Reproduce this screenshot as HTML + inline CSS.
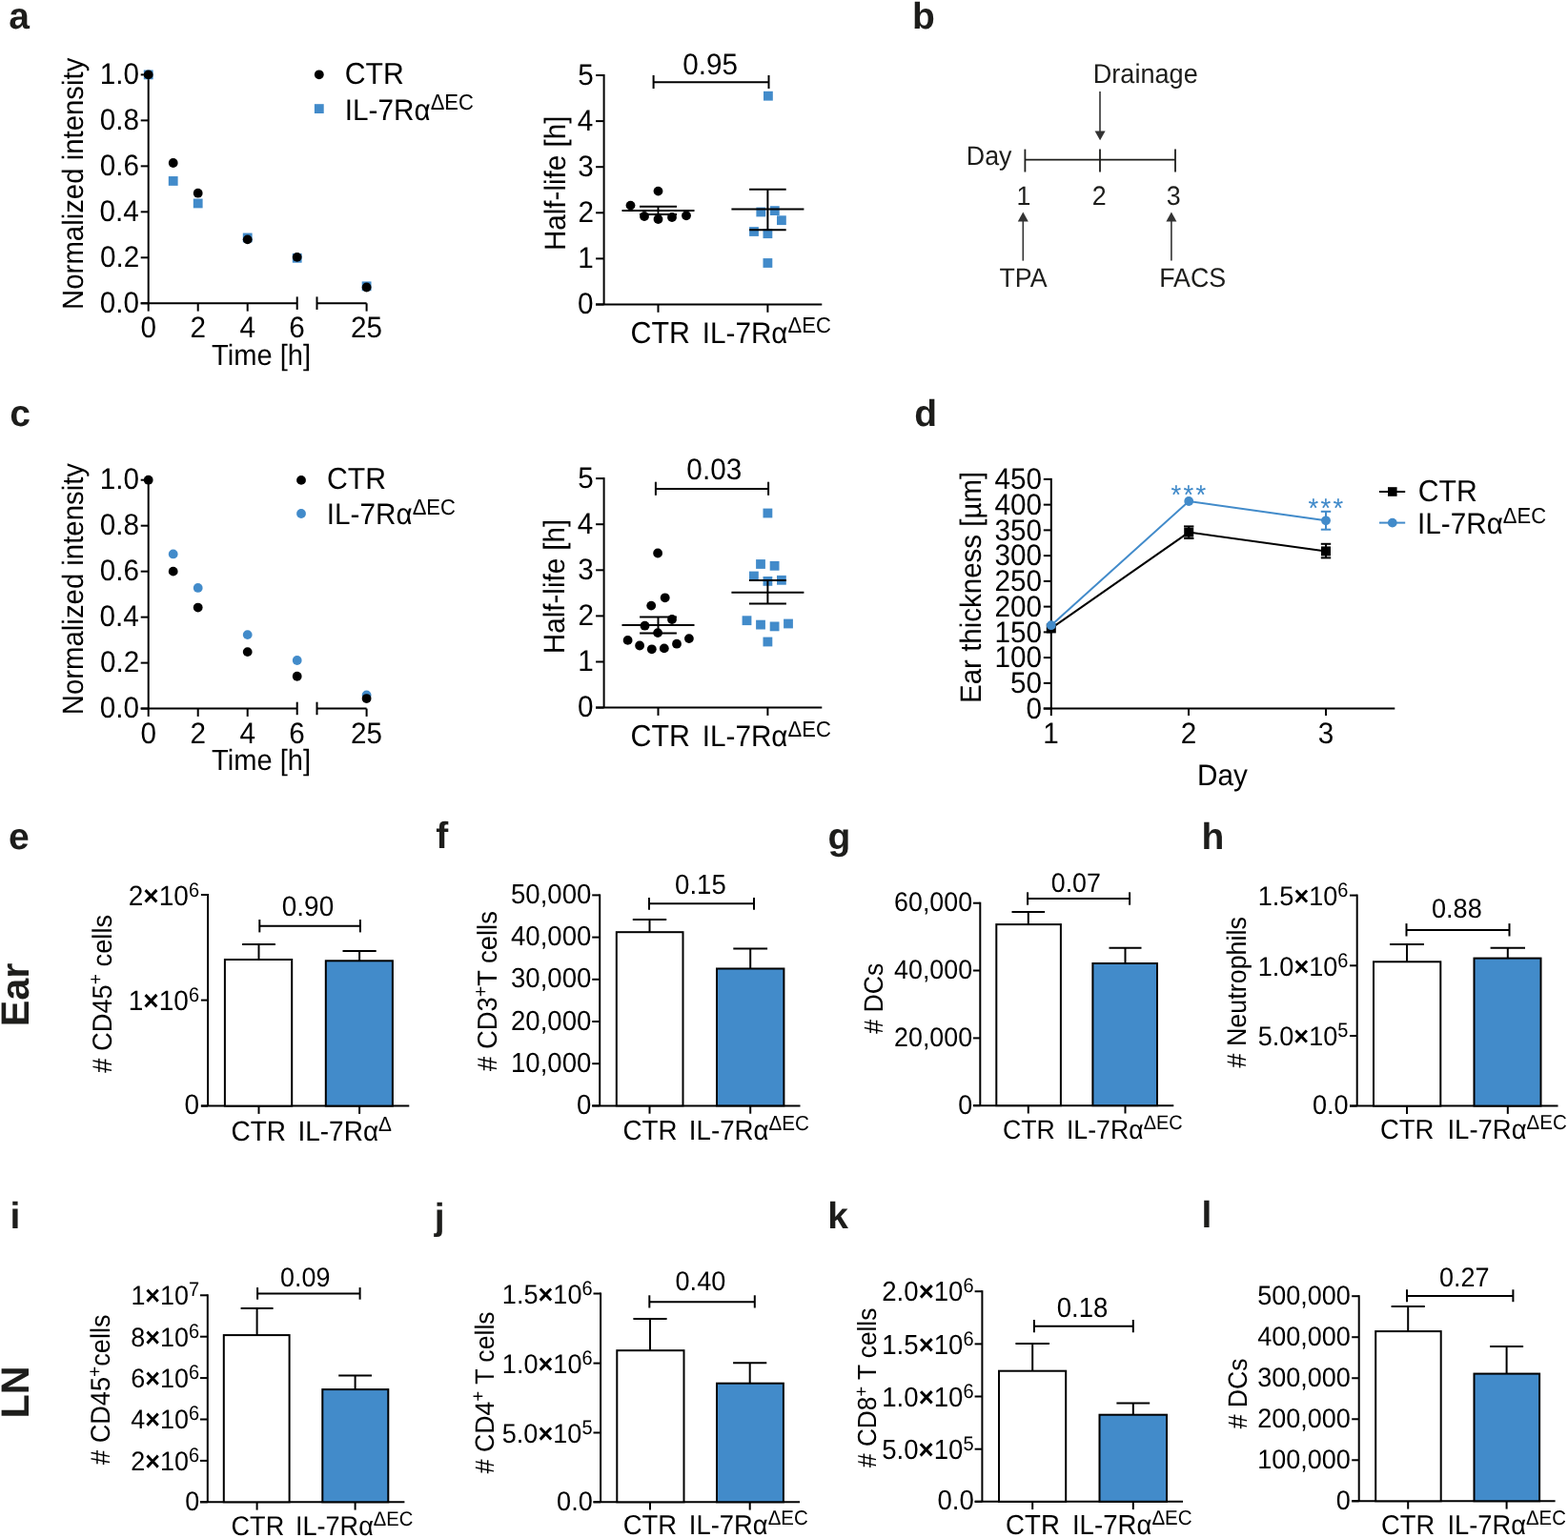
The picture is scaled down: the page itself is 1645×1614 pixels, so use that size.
<!DOCTYPE html>
<html><head><meta charset="utf-8"><title>Figure</title>
<style>
html,body{margin:0;padding:0;background:#fff;}
body{width:1645px;height:1614px;overflow:hidden;}
svg{display:block;}
svg text{font-family:'Liberation Sans', Arial, Helvetica, sans-serif;text-rendering:geometricPrecision;}
</style></head><body>
<svg width="1645" height="1614" viewBox="0 0 1645 1614">
<rect width="1645" height="1614" fill="#fff"/>
<text transform="translate(9.34,29.5)" font-size="39" fill="#1d1d1b" font-weight="bold">a</text>
<text transform="translate(956.99,30.2)" font-size="39" fill="#1d1d1b" font-weight="bold">b</text>
<text transform="translate(10.34,447)" font-size="39" fill="#1d1d1b" font-weight="bold">c</text>
<text transform="translate(959.36,447)" font-size="39" fill="#1d1d1b" font-weight="bold">d</text>
<text transform="translate(9.04,891.3)" font-size="39" fill="#1d1d1b" font-weight="bold">e</text>
<text transform="translate(457.35,890.3)" font-size="39" fill="#1d1d1b" font-weight="bold">f</text>
<text transform="translate(868.56,891)" font-size="39" fill="#1d1d1b" font-weight="bold">g</text>
<text transform="translate(1260.5,891.3)" font-size="39" fill="#1d1d1b" font-weight="bold">h</text>
<text transform="translate(10.39,1288.6)" font-size="39" fill="#1d1d1b" font-weight="bold">i</text>
<text transform="translate(455.75,1290)" font-size="39" fill="#1d1d1b" font-weight="bold">j</text>
<text transform="translate(868.27,1288.9)" font-size="39" fill="#1d1d1b" font-weight="bold">k</text>
<text transform="translate(1260.57,1288.4)" font-size="39" fill="#1d1d1b" font-weight="bold">l</text>
<text transform="translate(29.5,1043.8) rotate(-90)" x="-33.49" font-size="41.3" fill="#1d1d1b" font-weight="bold">Ear</text>
<text transform="translate(29.6,1462) rotate(-90)" x="-26.41" font-size="41.3" fill="#1d1d1b" font-weight="bold">LN</text>
<line x1="155.7" y1="77.4" x2="155.7" y2="326.6" stroke="#000" stroke-width="2"/>
<line x1="147.7" y1="318.3" x2="155.7" y2="318.3" stroke="#000" stroke-width="2"/>
<text transform="translate(104.67,327.9) scale(1,1.05)" font-size="29.7" fill="#000">0.0</text>
<line x1="147.7" y1="270.32" x2="155.7" y2="270.32" stroke="#000" stroke-width="2"/>
<text transform="translate(105.01,279.92) scale(1,1.05)" font-size="29.7" fill="#000">0.2</text>
<line x1="147.7" y1="222.34" x2="155.7" y2="222.34" stroke="#000" stroke-width="2"/>
<text transform="translate(104.38,231.94) scale(1,1.05)" font-size="29.7" fill="#000">0.4</text>
<line x1="147.7" y1="174.36" x2="155.7" y2="174.36" stroke="#000" stroke-width="2"/>
<text transform="translate(104.82,183.96) scale(1,1.05)" font-size="29.7" fill="#000">0.6</text>
<line x1="147.7" y1="126.38" x2="155.7" y2="126.38" stroke="#000" stroke-width="2"/>
<text transform="translate(104.8,135.98) scale(1,1.05)" font-size="29.7" fill="#000">0.8</text>
<line x1="147.7" y1="78.4" x2="155.7" y2="78.4" stroke="#000" stroke-width="2"/>
<text transform="translate(104.67,88) scale(1,1.05)" font-size="29.7" fill="#000">1.0</text>
<line x1="147.7" y1="318.3" x2="311.7" y2="318.3" stroke="#000" stroke-width="2"/>
<line x1="311.7" y1="311.4" x2="311.7" y2="324.9" stroke="#000" stroke-width="2"/>
<line x1="207.7" y1="318.3" x2="207.7" y2="326.6" stroke="#000" stroke-width="2"/>
<line x1="259.7" y1="318.3" x2="259.7" y2="326.6" stroke="#000" stroke-width="2"/>
<line x1="332.5" y1="318.3" x2="384.6" y2="318.3" stroke="#000" stroke-width="2"/>
<line x1="332.5" y1="311.4" x2="332.5" y2="324.9" stroke="#000" stroke-width="2"/>
<line x1="384.6" y1="318.3" x2="384.6" y2="326.6" stroke="#000" stroke-width="2"/>
<text transform="translate(147.44,354.3) scale(1,1.05)" font-size="29.7" fill="#000">0</text>
<text transform="translate(199.44,354.3) scale(1,1.05)" font-size="29.7" fill="#000">2</text>
<text transform="translate(251.54,354.3) scale(1,1.05)" font-size="29.7" fill="#000">4</text>
<text transform="translate(303.34,354.3) scale(1,1.05)" font-size="29.7" fill="#000">6</text>
<text transform="translate(367.96,354.3) scale(1,1.05)" font-size="29.7" fill="#000">25</text>
<text transform="translate(222.05,382.6) scale(1,1.05)" font-size="29.1" fill="#000">Time [h]</text>
<text transform="translate(87.2,191.6) rotate(-90) scale(1,1.05)" x="-133.3" font-size="29.35" fill="#000">Normalized intensity</text>
<rect x="150.8" y="73.5" width="9.8" height="9.8" fill="#428bca"/>
<rect x="176.8" y="185.05" width="9.8" height="9.8" fill="#428bca"/>
<rect x="202.8" y="208.56" width="9.8" height="9.8" fill="#428bca"/>
<rect x="254.8" y="244.55" width="9.8" height="9.8" fill="#428bca"/>
<rect x="306.8" y="265.9" width="9.8" height="9.8" fill="#428bca"/>
<rect x="379.7" y="295.41" width="9.8" height="9.8" fill="#428bca"/>
<circle cx="155.7" cy="78.4" r="4.9" fill="#000"/>
<circle cx="181.7" cy="171" r="4.9" fill="#000"/>
<circle cx="207.7" cy="202.67" r="4.9" fill="#000"/>
<circle cx="259.7" cy="251.37" r="4.9" fill="#000"/>
<circle cx="311.7" cy="269.84" r="4.9" fill="#000"/>
<circle cx="384.6" cy="301.51" r="4.9" fill="#000"/>
<circle cx="334.8" cy="78.3" r="4.9" fill="#000"/>
<rect x="329.9" y="109.2" width="9.8" height="9.8" fill="#428bca"/>
<text transform="translate(361.67,87.8) scale(1,1.05)" font-size="30.2" fill="#000">CTR</text>
<text transform="translate(361.86,125.5) scale(1,1.05)" font-size="29.7" fill="#000">IL-7Rα<tspan font-size="22" dy="-10.1">ΔEC</tspan></text>
<line x1="155.7" y1="502.7" x2="155.7" y2="751.9" stroke="#000" stroke-width="2"/>
<line x1="147.7" y1="743.6" x2="155.7" y2="743.6" stroke="#000" stroke-width="2"/>
<text transform="translate(104.67,753.2) scale(1,1.05)" font-size="29.7" fill="#000">0.0</text>
<line x1="147.7" y1="695.62" x2="155.7" y2="695.62" stroke="#000" stroke-width="2"/>
<text transform="translate(105.01,705.22) scale(1,1.05)" font-size="29.7" fill="#000">0.2</text>
<line x1="147.7" y1="647.64" x2="155.7" y2="647.64" stroke="#000" stroke-width="2"/>
<text transform="translate(104.38,657.24) scale(1,1.05)" font-size="29.7" fill="#000">0.4</text>
<line x1="147.7" y1="599.66" x2="155.7" y2="599.66" stroke="#000" stroke-width="2"/>
<text transform="translate(104.82,609.26) scale(1,1.05)" font-size="29.7" fill="#000">0.6</text>
<line x1="147.7" y1="551.68" x2="155.7" y2="551.68" stroke="#000" stroke-width="2"/>
<text transform="translate(104.8,561.28) scale(1,1.05)" font-size="29.7" fill="#000">0.8</text>
<line x1="147.7" y1="503.7" x2="155.7" y2="503.7" stroke="#000" stroke-width="2"/>
<text transform="translate(104.67,513.3) scale(1,1.05)" font-size="29.7" fill="#000">1.0</text>
<line x1="147.7" y1="743.6" x2="311.7" y2="743.6" stroke="#000" stroke-width="2"/>
<line x1="311.7" y1="736.7" x2="311.7" y2="750.2" stroke="#000" stroke-width="2"/>
<line x1="207.7" y1="743.6" x2="207.7" y2="751.9" stroke="#000" stroke-width="2"/>
<line x1="259.7" y1="743.6" x2="259.7" y2="751.9" stroke="#000" stroke-width="2"/>
<line x1="332.5" y1="743.6" x2="384.6" y2="743.6" stroke="#000" stroke-width="2"/>
<line x1="332.5" y1="736.7" x2="332.5" y2="750.2" stroke="#000" stroke-width="2"/>
<line x1="384.6" y1="743.6" x2="384.6" y2="751.9" stroke="#000" stroke-width="2"/>
<text transform="translate(147.44,779.6) scale(1,1.05)" font-size="29.7" fill="#000">0</text>
<text transform="translate(199.44,779.6) scale(1,1.05)" font-size="29.7" fill="#000">2</text>
<text transform="translate(251.54,779.6) scale(1,1.05)" font-size="29.7" fill="#000">4</text>
<text transform="translate(303.34,779.6) scale(1,1.05)" font-size="29.7" fill="#000">6</text>
<text transform="translate(367.96,779.6) scale(1,1.05)" font-size="29.7" fill="#000">25</text>
<text transform="translate(222.05,807.9) scale(1,1.05)" font-size="29.1" fill="#000">Time [h]</text>
<text transform="translate(87.2,616.9) rotate(-90) scale(1,1.05)" x="-133.3" font-size="29.35" fill="#000">Normalized intensity</text>
<circle cx="181.7" cy="581.43" r="4.9" fill="#428bca"/>
<circle cx="207.7" cy="616.93" r="4.9" fill="#428bca"/>
<circle cx="259.7" cy="666.11" r="4.9" fill="#428bca"/>
<circle cx="311.7" cy="692.98" r="4.9" fill="#428bca"/>
<circle cx="384.6" cy="729.45" r="4.9" fill="#428bca"/>
<circle cx="155.7" cy="503.7" r="4.9" fill="#000"/>
<circle cx="181.7" cy="599.66" r="4.9" fill="#000"/>
<circle cx="207.7" cy="637.56" r="4.9" fill="#000"/>
<circle cx="259.7" cy="684.1" r="4.9" fill="#000"/>
<circle cx="311.7" cy="709.77" r="4.9" fill="#000"/>
<circle cx="384.6" cy="733.04" r="4.9" fill="#000"/>
<circle cx="316" cy="503.9" r="4.9" fill="#000"/>
<circle cx="316" cy="539" r="4.9" fill="#428bca"/>
<text transform="translate(343.07,513.4) scale(1,1.05)" font-size="30.2" fill="#000">CTR</text>
<text transform="translate(342.86,550.4) scale(1,1.05)" font-size="29.7" fill="#000">IL-7Rα<tspan font-size="22" dy="-10.1">ΔEC</tspan></text>
<line x1="633.6" y1="78" x2="633.6" y2="319.5" stroke="#000" stroke-width="2"/>
<line x1="625.1" y1="319.5" x2="633.6" y2="319.5" stroke="#000" stroke-width="2"/>
<text transform="translate(606.04,329.2) scale(1,1.05)" font-size="29.7" fill="#000">0</text>
<line x1="625.1" y1="271.4" x2="633.6" y2="271.4" stroke="#000" stroke-width="2"/>
<text transform="translate(606.33,281.1) scale(1,1.05)" font-size="29.7" fill="#000">1</text>
<line x1="625.1" y1="223.3" x2="633.6" y2="223.3" stroke="#000" stroke-width="2"/>
<text transform="translate(606.38,233) scale(1,1.05)" font-size="29.7" fill="#000">2</text>
<line x1="625.1" y1="175.2" x2="633.6" y2="175.2" stroke="#000" stroke-width="2"/>
<text transform="translate(606.19,184.9) scale(1,1.05)" font-size="29.7" fill="#000">3</text>
<line x1="625.1" y1="127.1" x2="633.6" y2="127.1" stroke="#000" stroke-width="2"/>
<text transform="translate(605.75,136.8) scale(1,1.05)" font-size="29.7" fill="#000">4</text>
<line x1="625.1" y1="79" x2="633.6" y2="79" stroke="#000" stroke-width="2"/>
<text transform="translate(606.13,88.7) scale(1,1.05)" font-size="29.7" fill="#000">5</text>
<line x1="625.1" y1="319.5" x2="862.3" y2="319.5" stroke="#000" stroke-width="2"/>
<line x1="690.5" y1="319.5" x2="690.5" y2="327.8" stroke="#000" stroke-width="2"/>
<line x1="805.4" y1="319.5" x2="805.4" y2="327.8" stroke="#000" stroke-width="2"/>
<circle cx="690.5" cy="200.6" r="4.9" fill="#000"/>
<circle cx="661.5" cy="215.6" r="4.9" fill="#000"/>
<circle cx="676" cy="227" r="4.9" fill="#000"/>
<circle cx="690.5" cy="230" r="4.9" fill="#000"/>
<circle cx="705" cy="228" r="4.9" fill="#000"/>
<circle cx="720" cy="226.3" r="4.9" fill="#000"/>
<rect x="801" y="95.8" width="9.8" height="9.8" fill="#428bca"/>
<rect x="793.4" y="217.6" width="9.8" height="9.8" fill="#428bca"/>
<rect x="807.9" y="216.2" width="9.8" height="9.8" fill="#428bca"/>
<rect x="815" y="226.3" width="9.8" height="9.8" fill="#428bca"/>
<rect x="786.1" y="238.1" width="9.8" height="9.8" fill="#428bca"/>
<rect x="800.5" y="240.3" width="9.8" height="9.8" fill="#428bca"/>
<rect x="800.5" y="271.1" width="9.8" height="9.8" fill="#428bca"/>
<line x1="652.5" y1="221.1" x2="728.5" y2="221.1" stroke="#000" stroke-width="2"/>
<line x1="690.5" y1="216.7" x2="690.5" y2="225.1" stroke="#000" stroke-width="2"/>
<line x1="671" y1="216.7" x2="710" y2="216.7" stroke="#000" stroke-width="2"/>
<line x1="671" y1="225.1" x2="710" y2="225.1" stroke="#000" stroke-width="2"/>
<line x1="767.4" y1="219.6" x2="843.4" y2="219.6" stroke="#000" stroke-width="2"/>
<line x1="805.4" y1="198.8" x2="805.4" y2="241.2" stroke="#000" stroke-width="2"/>
<line x1="786.1" y1="198.8" x2="824.7" y2="198.8" stroke="#000" stroke-width="2"/>
<line x1="786.1" y1="241.2" x2="824.7" y2="241.2" stroke="#000" stroke-width="2"/>
<line x1="685.6" y1="86.2" x2="806.5" y2="86.2" stroke="#000" stroke-width="2"/>
<line x1="685.6" y1="79" x2="685.6" y2="93" stroke="#000" stroke-width="2"/>
<line x1="806.5" y1="79" x2="806.5" y2="93" stroke="#000" stroke-width="2"/>
<text transform="translate(716.34,77.9) scale(1,1.05)" font-size="29.7" fill="#000">0.95</text>
<text transform="translate(661.46,360) scale(1,1.05)" font-size="30.4" fill="#000">CTR</text>
<text transform="translate(736.76,360) scale(1,1.05)" font-size="29.7" fill="#000">IL-7Rα<tspan font-size="22" dy="-10.1">ΔEC</tspan></text>
<text transform="translate(593.4,192.2) rotate(-90) scale(1,1.05)" x="-70.89" font-size="29.6" fill="#000">Half-life [h]</text>
<line x1="633.6" y1="501.1" x2="633.6" y2="742.6" stroke="#000" stroke-width="2"/>
<line x1="625.1" y1="742.6" x2="633.6" y2="742.6" stroke="#000" stroke-width="2"/>
<text transform="translate(606.04,752.3) scale(1,1.05)" font-size="29.7" fill="#000">0</text>
<line x1="625.1" y1="694.5" x2="633.6" y2="694.5" stroke="#000" stroke-width="2"/>
<text transform="translate(606.33,704.2) scale(1,1.05)" font-size="29.7" fill="#000">1</text>
<line x1="625.1" y1="646.4" x2="633.6" y2="646.4" stroke="#000" stroke-width="2"/>
<text transform="translate(606.38,656.1) scale(1,1.05)" font-size="29.7" fill="#000">2</text>
<line x1="625.1" y1="598.3" x2="633.6" y2="598.3" stroke="#000" stroke-width="2"/>
<text transform="translate(606.19,608) scale(1,1.05)" font-size="29.7" fill="#000">3</text>
<line x1="625.1" y1="550.2" x2="633.6" y2="550.2" stroke="#000" stroke-width="2"/>
<text transform="translate(605.75,559.9) scale(1,1.05)" font-size="29.7" fill="#000">4</text>
<line x1="625.1" y1="502.1" x2="633.6" y2="502.1" stroke="#000" stroke-width="2"/>
<text transform="translate(606.13,511.8) scale(1,1.05)" font-size="29.7" fill="#000">5</text>
<line x1="625.1" y1="742.6" x2="862.3" y2="742.6" stroke="#000" stroke-width="2"/>
<line x1="690.5" y1="742.6" x2="690.5" y2="750.9" stroke="#000" stroke-width="2"/>
<line x1="805.4" y1="742.6" x2="805.4" y2="750.9" stroke="#000" stroke-width="2"/>
<circle cx="690.1" cy="580.5" r="4.9" fill="#000"/>
<circle cx="697.7" cy="627.3" r="4.9" fill="#000"/>
<circle cx="683.2" cy="635.6" r="4.9" fill="#000"/>
<circle cx="705" cy="650" r="4.9" fill="#000"/>
<circle cx="676.5" cy="656.7" r="4.9" fill="#000"/>
<circle cx="690.1" cy="664.1" r="4.9" fill="#000"/>
<circle cx="658.6" cy="671.9" r="4.9" fill="#000"/>
<circle cx="722.9" cy="670.1" r="4.9" fill="#000"/>
<circle cx="671.1" cy="677.5" r="4.9" fill="#000"/>
<circle cx="710" cy="675.7" r="4.9" fill="#000"/>
<circle cx="683.8" cy="681.3" r="4.9" fill="#000"/>
<circle cx="696.8" cy="680.4" r="4.9" fill="#000"/>
<rect x="800.5" y="533.6" width="9.8" height="9.8" fill="#428bca"/>
<rect x="793.1" y="587.1" width="9.8" height="9.8" fill="#428bca"/>
<rect x="807.7" y="588.9" width="9.8" height="9.8" fill="#428bca"/>
<rect x="786" y="599.6" width="9.8" height="9.8" fill="#428bca"/>
<rect x="800.5" y="605" width="9.8" height="9.8" fill="#428bca"/>
<rect x="815" y="603.9" width="9.8" height="9.8" fill="#428bca"/>
<rect x="778.6" y="646.3" width="9.8" height="9.8" fill="#428bca"/>
<rect x="793.1" y="650.7" width="9.8" height="9.8" fill="#428bca"/>
<rect x="807.7" y="652.5" width="9.8" height="9.8" fill="#428bca"/>
<rect x="822.1" y="649.6" width="9.8" height="9.8" fill="#428bca"/>
<rect x="800.5" y="668.6" width="9.8" height="9.8" fill="#428bca"/>
<line x1="652.5" y1="655.9" x2="728.5" y2="655.9" stroke="#000" stroke-width="2"/>
<line x1="690.5" y1="647.4" x2="690.5" y2="664.5" stroke="#000" stroke-width="2"/>
<line x1="671.1" y1="647.4" x2="709.9" y2="647.4" stroke="#000" stroke-width="2"/>
<line x1="671.1" y1="664.5" x2="709.9" y2="664.5" stroke="#000" stroke-width="2"/>
<line x1="767.4" y1="621.7" x2="843.4" y2="621.7" stroke="#000" stroke-width="2"/>
<line x1="805.4" y1="609" x2="805.4" y2="633.5" stroke="#000" stroke-width="2"/>
<line x1="785.9" y1="609" x2="824.9" y2="609" stroke="#000" stroke-width="2"/>
<line x1="785.9" y1="633.5" x2="824.9" y2="633.5" stroke="#000" stroke-width="2"/>
<line x1="687.9" y1="512.9" x2="806.1" y2="512.9" stroke="#000" stroke-width="2"/>
<line x1="687.9" y1="505.7" x2="687.9" y2="519.8" stroke="#000" stroke-width="2"/>
<line x1="806.1" y1="505.7" x2="806.1" y2="519.8" stroke="#000" stroke-width="2"/>
<text transform="translate(720.37,502.8) scale(1,1.05)" font-size="29.7" fill="#000">0.03</text>
<text transform="translate(661.46,783.1) scale(1,1.05)" font-size="30.4" fill="#000">CTR</text>
<text transform="translate(736.76,783.1) scale(1,1.05)" font-size="29.7" fill="#000">IL-7Rα<tspan font-size="22" dy="-10.1">ΔEC</tspan></text>
<text transform="translate(591.6,615.3) rotate(-90) scale(1,1.05)" x="-70.89" font-size="29.6" fill="#000">Half-life [h]</text>
<line x1="1075.4" y1="167.7" x2="1233" y2="167.7" stroke="#1d1d1b" stroke-width="1.8"/>
<line x1="1075.4" y1="156.6" x2="1075.4" y2="180.5" stroke="#1d1d1b" stroke-width="1.8"/>
<line x1="1154" y1="156.6" x2="1154" y2="180.5" stroke="#1d1d1b" stroke-width="1.8"/>
<line x1="1233" y1="156.6" x2="1233" y2="180.5" stroke="#1d1d1b" stroke-width="1.8"/>
<text transform="translate(1013.8,173.1) scale(1,1.05)" font-size="26.8" fill="#1d1d1b">Day</text>
<text transform="translate(1066.48,214.5) scale(1,1.05)" font-size="26.8" fill="#1d1d1b">1</text>
<text transform="translate(1145.65,214.5) scale(1,1.05)" font-size="26.8" fill="#1d1d1b">2</text>
<text transform="translate(1223.83,214.5) scale(1,1.05)" font-size="26.8" fill="#1d1d1b">3</text>
<text transform="translate(1146.78,87.2) scale(1,1.05)" font-size="27.1" fill="#1d1d1b">Drainage</text>
<line x1="1154" y1="96" x2="1154" y2="139" stroke="#333" stroke-width="1.6"/>
<polygon points="1148.6,137.4 1159.6,137.4 1154.1,147.3" fill="#333"/>
<line x1="1073.3" y1="231" x2="1073.3" y2="273.6" stroke="#333" stroke-width="1.6"/>
<polygon points="1067.8,232.4 1078.8,232.4 1073.3,222.4" fill="#333"/>
<line x1="1228.9" y1="231" x2="1228.9" y2="273.6" stroke="#333" stroke-width="1.6"/>
<polygon points="1223.4,232.4 1234.4,232.4 1228.9,222.4" fill="#333"/>
<text transform="translate(1048.4,300.8) scale(1,1.05)" font-size="26.8" fill="#1d1d1b">TPA</text>
<text transform="translate(1216.2,300.8) scale(1,1.05)" font-size="26.8" fill="#1d1d1b">FACS</text>
<line x1="1102.8" y1="501.89" x2="1102.8" y2="751.1" stroke="#000" stroke-width="2"/>
<line x1="1094.8" y1="743.6" x2="1102.8" y2="743.6" stroke="#000" stroke-width="2"/>
<text transform="translate(1076.54,753.9) scale(1,1.05)" font-size="29.7" fill="#000">0</text>
<line x1="1094.8" y1="716.86" x2="1102.8" y2="716.86" stroke="#000" stroke-width="2"/>
<text transform="translate(1060.02,727.15) scale(1,1.05)" font-size="29.7" fill="#000">50</text>
<line x1="1094.8" y1="690.11" x2="1102.8" y2="690.11" stroke="#000" stroke-width="2"/>
<text transform="translate(1043.51,700.41) scale(1,1.05)" font-size="29.7" fill="#000">100</text>
<line x1="1094.8" y1="663.37" x2="1102.8" y2="663.37" stroke="#000" stroke-width="2"/>
<text transform="translate(1043.51,673.66) scale(1,1.05)" font-size="29.7" fill="#000">150</text>
<line x1="1094.8" y1="636.62" x2="1102.8" y2="636.62" stroke="#000" stroke-width="2"/>
<text transform="translate(1043.51,646.92) scale(1,1.05)" font-size="29.7" fill="#000">200</text>
<line x1="1094.8" y1="609.88" x2="1102.8" y2="609.88" stroke="#000" stroke-width="2"/>
<text transform="translate(1043.51,620.17) scale(1,1.05)" font-size="29.7" fill="#000">250</text>
<line x1="1094.8" y1="583.13" x2="1102.8" y2="583.13" stroke="#000" stroke-width="2"/>
<text transform="translate(1043.51,593.43) scale(1,1.05)" font-size="29.7" fill="#000">300</text>
<line x1="1094.8" y1="556.38" x2="1102.8" y2="556.38" stroke="#000" stroke-width="2"/>
<text transform="translate(1043.51,566.68) scale(1,1.05)" font-size="29.7" fill="#000">350</text>
<line x1="1094.8" y1="529.64" x2="1102.8" y2="529.64" stroke="#000" stroke-width="2"/>
<text transform="translate(1043.51,539.94) scale(1,1.05)" font-size="29.7" fill="#000">400</text>
<line x1="1094.8" y1="502.89" x2="1102.8" y2="502.89" stroke="#000" stroke-width="2"/>
<text transform="translate(1043.51,513.19) scale(1,1.05)" font-size="29.7" fill="#000">450</text>
<line x1="1094.8" y1="743.6" x2="1463.3" y2="743.6" stroke="#000" stroke-width="2"/>
<line x1="1247" y1="743.6" x2="1247" y2="751.1" stroke="#000" stroke-width="2"/>
<line x1="1391" y1="743.6" x2="1391" y2="751.1" stroke="#000" stroke-width="2"/>
<text transform="translate(1094.14,779.6) scale(1,1.05)" font-size="29.7" fill="#000">1</text>
<text transform="translate(1238.74,779.6) scale(1,1.05)" font-size="29.7" fill="#000">2</text>
<text transform="translate(1382.83,779.6) scale(1,1.05)" font-size="29.7" fill="#000">3</text>
<text transform="translate(1256.06,824.3) scale(1,1.05)" font-size="29.7" fill="#000">Day</text>
<text transform="translate(1029.1,616.2) rotate(-90) scale(1,1.05)" x="-121.77" font-size="29.5" fill="#000">Ear thickness [µm]</text>
<polyline points="1102.8,659.4 1247.2,558.6 1391,578.4" fill="none" stroke="#000" stroke-width="2" stroke-linejoin="miter"/>
<polyline points="1102.8,656.2 1247.2,526 1391,546.3" fill="none" stroke="#428bca" stroke-width="2" stroke-linejoin="miter"/>
<line x1="1247.2" y1="552.4" x2="1247.2" y2="565" stroke="#000" stroke-width="2"/>
<line x1="1242" y1="552.4" x2="1252.4" y2="552.4" stroke="#000" stroke-width="2"/>
<line x1="1242" y1="565" x2="1252.4" y2="565" stroke="#000" stroke-width="2"/>
<line x1="1391" y1="570.8" x2="1391" y2="585.4" stroke="#000" stroke-width="2"/>
<line x1="1385.8" y1="570.8" x2="1396.2" y2="570.8" stroke="#000" stroke-width="2"/>
<line x1="1385.8" y1="585.4" x2="1396.2" y2="585.4" stroke="#000" stroke-width="2"/>
<line x1="1391" y1="536.8" x2="1391" y2="555.7" stroke="#428bca" stroke-width="2"/>
<line x1="1385.8" y1="536.8" x2="1396.2" y2="536.8" stroke="#428bca" stroke-width="2"/>
<line x1="1385.8" y1="555.7" x2="1396.2" y2="555.7" stroke="#428bca" stroke-width="2"/>
<rect x="1097.8" y="654.4" width="10" height="10" fill="#000"/>
<rect x="1242.2" y="553.6" width="10" height="10" fill="#000"/>
<rect x="1386" y="573.4" width="10" height="10" fill="#000"/>
<circle cx="1102.8" cy="656.2" r="4.9" fill="#428bca"/>
<circle cx="1247.2" cy="526" r="4.9" fill="#428bca"/>
<circle cx="1391" cy="546.3" r="4.9" fill="#428bca"/>
<text transform="translate(1228.54,528.8) scale(1,1.05)" font-size="27.5" fill="#428bca" letter-spacing="2.3">***</text>
<text transform="translate(1372.44,543.3) scale(1,1.05)" font-size="27.5" fill="#428bca" letter-spacing="2.3">***</text>
<line x1="1447" y1="516" x2="1474.2" y2="516" stroke="#000" stroke-width="2"/>
<rect x="1456" y="511.2" width="9.6" height="9.6" fill="#000"/>
<line x1="1447" y1="548.6" x2="1474.2" y2="548.6" stroke="#428bca" stroke-width="2"/>
<circle cx="1460.8" cy="548.6" r="4.9" fill="#428bca"/>
<text transform="translate(1487.67,526) scale(1,1.05)" font-size="30.2" fill="#000">CTR</text>
<text transform="translate(1487.06,559.5) scale(1,1.05)" font-size="29.7" fill="#000">IL-7Rα<tspan font-size="22" dy="-10.1">ΔEC</tspan></text>
<line x1="218.1" y1="938" x2="218.1" y2="1160.6" stroke="#000" stroke-width="2"/>
<line x1="210.9" y1="939" x2="218.1" y2="939" stroke="#000" stroke-width="2"/>
<text transform="translate(134.79,949.8) scale(1,1.05)" font-size="28" fill="#000">2<tspan font-size="28" font-weight="bold">×</tspan><tspan font-size="28">10</tspan><tspan font-size="20" dy="-8.57">6</tspan></text>
<line x1="210.9" y1="1049.6" x2="218.1" y2="1049.6" stroke="#000" stroke-width="2"/>
<text transform="translate(134.79,1060.4) scale(1,1.05)" font-size="28" fill="#000">1<tspan font-size="28" font-weight="bold">×</tspan><tspan font-size="28">10</tspan><tspan font-size="20" dy="-8.57">6</tspan></text>
<line x1="210.9" y1="1160.6" x2="218.1" y2="1160.6" stroke="#000" stroke-width="2"/>
<text transform="translate(193.62,1169.2) scale(1,1.05)" font-size="28" fill="#000">0</text>
<line x1="210.9" y1="1160.6" x2="429.3" y2="1160.6" stroke="#000" stroke-width="2"/>
<line x1="271.5" y1="991" x2="271.5" y2="1007" stroke="#000" stroke-width="2"/>
<line x1="254.1" y1="991" x2="288.9" y2="991" stroke="#000" stroke-width="2"/>
<rect x="235.9" y="1007" width="70.3" height="153.6" fill="#fff" stroke="#000" stroke-width="2"/>
<line x1="271.5" y1="1160.6" x2="271.5" y2="1168.9" stroke="#000" stroke-width="2"/>
<line x1="377.1" y1="997.9" x2="377.1" y2="1008.3" stroke="#000" stroke-width="2"/>
<line x1="359.5" y1="997.9" x2="394.7" y2="997.9" stroke="#000" stroke-width="2"/>
<rect x="341.8" y="1008.3" width="70.1" height="152.3" fill="#428bca" stroke="#000" stroke-width="2"/>
<line x1="377.1" y1="1160.6" x2="377.1" y2="1168.9" stroke="#000" stroke-width="2"/>
<line x1="272.3" y1="971.7" x2="377.9" y2="971.7" stroke="#000" stroke-width="2"/>
<line x1="272.3" y1="965" x2="272.3" y2="978.4" stroke="#000" stroke-width="2"/>
<line x1="377.9" y1="965" x2="377.9" y2="978.4" stroke="#000" stroke-width="2"/>
<text transform="translate(295.75,960.5) scale(1,1.05)" font-size="28" fill="#000">0.90</text>
<text transform="translate(242.48,1196.9) scale(1,1.05)" font-size="28" fill="#000">CTR</text>
<text transform="translate(312.42,1196.9) scale(1,1.05)" font-size="28" fill="#000">IL-7Rα<tspan font-size="20.86" dy="-9.52">Δ</tspan></text>
<text transform="translate(116.5,1043.2) rotate(-90) scale(1,1.05)" x="-82.49" font-size="27.26" fill="#000"># CD45<tspan font-size="19.35" dy="-9.14">+</tspan><tspan font-size="27.26" dy="9.14"> cells</tspan></text>
<line x1="629.2" y1="938.4" x2="629.2" y2="1160.4" stroke="#000" stroke-width="2"/>
<line x1="621.2" y1="939.4" x2="629.2" y2="939.4" stroke="#000" stroke-width="2"/>
<text transform="translate(535.96,948) scale(1,1.05)" font-size="27.6" fill="#000">50,000</text>
<line x1="621.2" y1="983.6" x2="629.2" y2="983.6" stroke="#000" stroke-width="2"/>
<text transform="translate(535.96,992.2) scale(1,1.05)" font-size="27.6" fill="#000">40,000</text>
<line x1="621.2" y1="1027.8" x2="629.2" y2="1027.8" stroke="#000" stroke-width="2"/>
<text transform="translate(535.96,1036.4) scale(1,1.05)" font-size="27.6" fill="#000">30,000</text>
<line x1="621.2" y1="1072" x2="629.2" y2="1072" stroke="#000" stroke-width="2"/>
<text transform="translate(535.96,1080.6) scale(1,1.05)" font-size="27.6" fill="#000">20,000</text>
<line x1="621.2" y1="1116.2" x2="629.2" y2="1116.2" stroke="#000" stroke-width="2"/>
<text transform="translate(535.96,1124.8) scale(1,1.05)" font-size="27.6" fill="#000">10,000</text>
<line x1="621.2" y1="1160.4" x2="629.2" y2="1160.4" stroke="#000" stroke-width="2"/>
<text transform="translate(605.03,1169) scale(1,1.05)" font-size="27.6" fill="#000">0</text>
<line x1="621.2" y1="1160.4" x2="839.5" y2="1160.4" stroke="#000" stroke-width="2"/>
<line x1="681.5" y1="964.9" x2="681.5" y2="978.2" stroke="#000" stroke-width="2"/>
<line x1="663.8" y1="964.9" x2="699.2" y2="964.9" stroke="#000" stroke-width="2"/>
<rect x="646.8" y="978.2" width="69.7" height="182.2" fill="#fff" stroke="#000" stroke-width="2"/>
<line x1="681.5" y1="1160.4" x2="681.5" y2="1168.7" stroke="#000" stroke-width="2"/>
<line x1="787.2" y1="995.5" x2="787.2" y2="1016.5" stroke="#000" stroke-width="2"/>
<line x1="769.3" y1="995.5" x2="805.1" y2="995.5" stroke="#000" stroke-width="2"/>
<rect x="752" y="1016.5" width="70.4" height="143.9" fill="#428bca" stroke="#000" stroke-width="2"/>
<line x1="787.2" y1="1160.4" x2="787.2" y2="1168.7" stroke="#000" stroke-width="2"/>
<line x1="681" y1="948.3" x2="791" y2="948.3" stroke="#000" stroke-width="2"/>
<line x1="681" y1="941.9" x2="681" y2="954.7" stroke="#000" stroke-width="2"/>
<line x1="791" y1="941.9" x2="791" y2="954.7" stroke="#000" stroke-width="2"/>
<text transform="translate(708.08,938.1) scale(1,1.05)" font-size="27.6" fill="#000">0.15</text>
<text transform="translate(653.59,1196.4) scale(1,1.05)" font-size="27.7" fill="#000">CTR</text>
<text transform="translate(722.84,1196.4) scale(1,1.05)" font-size="27.7" fill="#000">IL-7Rα<tspan font-size="20.64" dy="-9.52">ΔEC</tspan></text>
<text transform="translate(521,1040.2) rotate(-90) scale(1,1.05)" x="-83.69" font-size="27.41" fill="#000"># CD3<tspan font-size="19.46" dy="-9.14">+</tspan><tspan font-size="27.41" dy="9.14">T cells</tspan></text>
<line x1="1028.3" y1="946.7" x2="1028.3" y2="1160.2" stroke="#000" stroke-width="2"/>
<line x1="1021" y1="947.7" x2="1028.3" y2="947.7" stroke="#000" stroke-width="2"/>
<text transform="translate(938.08,956.3) scale(1,1.05)" font-size="26.8" fill="#000">60,000</text>
<line x1="1021" y1="1018.5" x2="1028.3" y2="1018.5" stroke="#000" stroke-width="2"/>
<text transform="translate(938.08,1027.1) scale(1,1.05)" font-size="26.8" fill="#000">40,000</text>
<line x1="1021" y1="1089.4" x2="1028.3" y2="1089.4" stroke="#000" stroke-width="2"/>
<text transform="translate(938.08,1098) scale(1,1.05)" font-size="26.8" fill="#000">20,000</text>
<line x1="1021" y1="1160.2" x2="1028.3" y2="1160.2" stroke="#000" stroke-width="2"/>
<text transform="translate(1005.14,1168.8) scale(1,1.05)" font-size="26.8" fill="#000">0</text>
<line x1="1021" y1="1160.2" x2="1231.3" y2="1160.2" stroke="#000" stroke-width="2"/>
<line x1="1078.8" y1="957" x2="1078.8" y2="970.1" stroke="#000" stroke-width="2"/>
<line x1="1061.5" y1="957" x2="1096.1" y2="957" stroke="#000" stroke-width="2"/>
<rect x="1045.3" y="970.1" width="67.6" height="190.1" fill="#fff" stroke="#000" stroke-width="2"/>
<line x1="1078.8" y1="1160.2" x2="1078.8" y2="1168.5" stroke="#000" stroke-width="2"/>
<line x1="1180.5" y1="994.7" x2="1180.5" y2="1011" stroke="#000" stroke-width="2"/>
<line x1="1163.5" y1="994.7" x2="1197.5" y2="994.7" stroke="#000" stroke-width="2"/>
<rect x="1146.4" y="1011" width="67.6" height="149.2" fill="#428bca" stroke="#000" stroke-width="2"/>
<line x1="1180.5" y1="1160.2" x2="1180.5" y2="1168.5" stroke="#000" stroke-width="2"/>
<line x1="1078.1" y1="942.9" x2="1185.1" y2="942.9" stroke="#000" stroke-width="2"/>
<line x1="1078.1" y1="936.3" x2="1078.1" y2="949.7" stroke="#000" stroke-width="2"/>
<line x1="1185.1" y1="936.3" x2="1185.1" y2="949.7" stroke="#000" stroke-width="2"/>
<text transform="translate(1102.77,935.6) scale(1,1.05)" font-size="26.8" fill="#000">0.07</text>
<text transform="translate(1051.94,1195.3) scale(1,1.05)" font-size="26.7" fill="#000">CTR</text>
<text transform="translate(1118.94,1195.3) scale(1,1.05)" font-size="26.7" fill="#000">IL-7Rα<tspan font-size="19.89" dy="-9.52">ΔEC</tspan></text>
<text transform="translate(925.5,1048.2) rotate(-90) scale(1,1.05)" x="-36.61" font-size="26.66" fill="#000"># DCs</text>
<line x1="1423.7" y1="938.6" x2="1423.7" y2="1160.6" stroke="#000" stroke-width="2"/>
<line x1="1416" y1="939.6" x2="1423.7" y2="939.6" stroke="#000" stroke-width="2"/>
<text transform="translate(1319.71,949.8) scale(1,1.05)" font-size="27.1" fill="#000">1.5<tspan font-size="27.1" font-weight="bold">×</tspan><tspan font-size="27.1">10</tspan><tspan font-size="20" dy="-8.57">6</tspan></text>
<line x1="1416" y1="1013.3" x2="1423.7" y2="1013.3" stroke="#000" stroke-width="2"/>
<text transform="translate(1319.71,1023.5) scale(1,1.05)" font-size="27.1" fill="#000">1.0<tspan font-size="27.1" font-weight="bold">×</tspan><tspan font-size="27.1">10</tspan><tspan font-size="20" dy="-8.57">6</tspan></text>
<line x1="1416" y1="1087" x2="1423.7" y2="1087" stroke="#000" stroke-width="2"/>
<text transform="translate(1319.67,1097.2) scale(1,1.05)" font-size="27.1" fill="#000">5.0<tspan font-size="27.1" font-weight="bold">×</tspan><tspan font-size="27.1">10</tspan><tspan font-size="20" dy="-8.57">5</tspan></text>
<line x1="1416" y1="1160.6" x2="1423.7" y2="1160.6" stroke="#000" stroke-width="2"/>
<text transform="translate(1376.99,1169.2) scale(1,1.05)" font-size="27.1" fill="#000">0.0</text>
<line x1="1416" y1="1160.6" x2="1634.5" y2="1160.6" stroke="#000" stroke-width="2"/>
<line x1="1476" y1="991" x2="1476" y2="1009.3" stroke="#000" stroke-width="2"/>
<line x1="1458" y1="991" x2="1494" y2="991" stroke="#000" stroke-width="2"/>
<rect x="1441" y="1009.3" width="70.3" height="151.3" fill="#fff" stroke="#000" stroke-width="2"/>
<line x1="1476" y1="1160.6" x2="1476" y2="1168.9" stroke="#000" stroke-width="2"/>
<line x1="1581.8" y1="994.7" x2="1581.8" y2="1005.6" stroke="#000" stroke-width="2"/>
<line x1="1563.6" y1="994.7" x2="1600" y2="994.7" stroke="#000" stroke-width="2"/>
<rect x="1546.5" y="1005.6" width="70" height="155" fill="#428bca" stroke="#000" stroke-width="2"/>
<line x1="1581.8" y1="1160.6" x2="1581.8" y2="1168.9" stroke="#000" stroke-width="2"/>
<line x1="1475.5" y1="976" x2="1583.5" y2="976" stroke="#000" stroke-width="2"/>
<line x1="1475.5" y1="969.1" x2="1475.5" y2="982.5" stroke="#000" stroke-width="2"/>
<line x1="1583.5" y1="969.1" x2="1583.5" y2="982.5" stroke="#000" stroke-width="2"/>
<text transform="translate(1501.99,963) scale(1,1.05)" font-size="27.1" fill="#000">0.88</text>
<text transform="translate(1447.9,1195.3) scale(1,1.05)" font-size="27.5" fill="#000">CTR</text>
<text transform="translate(1518.46,1195.3) scale(1,1.05)" font-size="27.5" fill="#000">IL-7Rα<tspan font-size="20.49" dy="-9.52">ΔEC</tspan></text>
<text transform="translate(1306.6,1041.7) rotate(-90) scale(1,1.05)" x="-78.82" font-size="26.9" fill="#000"># Neutrophils</text>
<line x1="217.8" y1="1358.3" x2="217.8" y2="1576.3" stroke="#000" stroke-width="2"/>
<line x1="210" y1="1359.3" x2="217.8" y2="1359.3" stroke="#000" stroke-width="2"/>
<text transform="translate(137.39,1369.2) scale(1,1.05)" font-size="26.9" fill="#000">1<tspan font-size="26.9" font-weight="bold">×</tspan><tspan font-size="26.9">10</tspan><tspan font-size="20" dy="-8.57">7</tspan></text>
<line x1="210" y1="1402.7" x2="217.8" y2="1402.7" stroke="#000" stroke-width="2"/>
<text transform="translate(137.27,1412.6) scale(1,1.05)" font-size="26.9" fill="#000">8<tspan font-size="26.9" font-weight="bold">×</tspan><tspan font-size="26.9">10</tspan><tspan font-size="20" dy="-8.57">6</tspan></text>
<line x1="210" y1="1446.1" x2="217.8" y2="1446.1" stroke="#000" stroke-width="2"/>
<text transform="translate(137.27,1456) scale(1,1.05)" font-size="26.9" fill="#000">6<tspan font-size="26.9" font-weight="bold">×</tspan><tspan font-size="26.9">10</tspan><tspan font-size="20" dy="-8.57">6</tspan></text>
<line x1="210" y1="1489.5" x2="217.8" y2="1489.5" stroke="#000" stroke-width="2"/>
<text transform="translate(137.27,1499.4) scale(1,1.05)" font-size="26.9" fill="#000">4<tspan font-size="26.9" font-weight="bold">×</tspan><tspan font-size="26.9">10</tspan><tspan font-size="20" dy="-8.57">6</tspan></text>
<line x1="210" y1="1532.9" x2="217.8" y2="1532.9" stroke="#000" stroke-width="2"/>
<text transform="translate(137.27,1542.8) scale(1,1.05)" font-size="26.9" fill="#000">2<tspan font-size="26.9" font-weight="bold">×</tspan><tspan font-size="26.9">10</tspan><tspan font-size="20" dy="-8.57">6</tspan></text>
<line x1="210" y1="1576.3" x2="217.8" y2="1576.3" stroke="#000" stroke-width="2"/>
<text transform="translate(194.19,1584.9) scale(1,1.05)" font-size="26.9" fill="#000">0</text>
<line x1="210" y1="1576.3" x2="424.4" y2="1576.3" stroke="#000" stroke-width="2"/>
<line x1="269.6" y1="1373" x2="269.6" y2="1401.1" stroke="#000" stroke-width="2"/>
<line x1="252.6" y1="1373" x2="286.6" y2="1373" stroke="#000" stroke-width="2"/>
<rect x="234.8" y="1401.1" width="68.8" height="175.2" fill="#fff" stroke="#000" stroke-width="2"/>
<line x1="269.6" y1="1576.3" x2="269.6" y2="1584.6" stroke="#000" stroke-width="2"/>
<line x1="372.6" y1="1443.4" x2="372.6" y2="1458.1" stroke="#000" stroke-width="2"/>
<line x1="355.2" y1="1443.4" x2="390" y2="1443.4" stroke="#000" stroke-width="2"/>
<rect x="338.3" y="1458.1" width="69" height="118.2" fill="#428bca" stroke="#000" stroke-width="2"/>
<line x1="372.6" y1="1576.3" x2="372.6" y2="1584.6" stroke="#000" stroke-width="2"/>
<line x1="270.1" y1="1357.5" x2="377.6" y2="1357.5" stroke="#000" stroke-width="2"/>
<line x1="270.1" y1="1351.1" x2="270.1" y2="1363.7" stroke="#000" stroke-width="2"/>
<line x1="377.6" y1="1351.1" x2="377.6" y2="1363.7" stroke="#000" stroke-width="2"/>
<text transform="translate(294.03,1349.5) scale(1,1.05)" font-size="26.9" fill="#000">0.09</text>
<text transform="translate(242.52,1611) scale(1,1.05)" font-size="27.1" fill="#000">CTR</text>
<text transform="translate(309.9,1611) scale(1,1.05)" font-size="27.1" fill="#000">IL-7Rα<tspan font-size="20.19" dy="-9.52">ΔEC</tspan></text>
<text transform="translate(115.2,1458.6) rotate(-90) scale(1,1.05)" x="-78.3" font-size="27.12" fill="#000"># CD45<tspan font-size="19.26" dy="-9.14">+</tspan><tspan font-size="27.12" dy="9.14">cells</tspan></text>
<line x1="630.1" y1="1356.5" x2="630.1" y2="1576.3" stroke="#000" stroke-width="2"/>
<line x1="622.5" y1="1357.5" x2="630.1" y2="1357.5" stroke="#000" stroke-width="2"/>
<text transform="translate(526.81,1367.7) scale(1,1.05)" font-size="27.1" fill="#000">1.5<tspan font-size="27.1" font-weight="bold">×</tspan><tspan font-size="27.1">10</tspan><tspan font-size="20" dy="-8.57">6</tspan></text>
<line x1="622.5" y1="1430.6" x2="630.1" y2="1430.6" stroke="#000" stroke-width="2"/>
<text transform="translate(526.81,1440.8) scale(1,1.05)" font-size="27.1" fill="#000">1.0<tspan font-size="27.1" font-weight="bold">×</tspan><tspan font-size="27.1">10</tspan><tspan font-size="20" dy="-8.57">6</tspan></text>
<line x1="622.5" y1="1503.5" x2="630.1" y2="1503.5" stroke="#000" stroke-width="2"/>
<text transform="translate(526.77,1513.7) scale(1,1.05)" font-size="27.1" fill="#000">5.0<tspan font-size="27.1" font-weight="bold">×</tspan><tspan font-size="27.1">10</tspan><tspan font-size="20" dy="-8.57">5</tspan></text>
<line x1="622.5" y1="1576.3" x2="630.1" y2="1576.3" stroke="#000" stroke-width="2"/>
<text transform="translate(584.09,1584.9) scale(1,1.05)" font-size="27.1" fill="#000">0.0</text>
<line x1="622.5" y1="1576.3" x2="839" y2="1576.3" stroke="#000" stroke-width="2"/>
<line x1="682" y1="1384" x2="682" y2="1417.2" stroke="#000" stroke-width="2"/>
<line x1="664.4" y1="1384" x2="699.6" y2="1384" stroke="#000" stroke-width="2"/>
<rect x="647.3" y="1417.2" width="70.2" height="159.1" fill="#fff" stroke="#000" stroke-width="2"/>
<line x1="682" y1="1576.3" x2="682" y2="1584.6" stroke="#000" stroke-width="2"/>
<line x1="786.7" y1="1430.2" x2="786.7" y2="1451.7" stroke="#000" stroke-width="2"/>
<line x1="769.1" y1="1430.2" x2="804.3" y2="1430.2" stroke="#000" stroke-width="2"/>
<rect x="752" y="1451.7" width="69.9" height="124.6" fill="#428bca" stroke="#000" stroke-width="2"/>
<line x1="786.7" y1="1576.3" x2="786.7" y2="1584.6" stroke="#000" stroke-width="2"/>
<line x1="681.3" y1="1366.2" x2="791.8" y2="1366.2" stroke="#000" stroke-width="2"/>
<line x1="681.3" y1="1359.3" x2="681.3" y2="1372.5" stroke="#000" stroke-width="2"/>
<line x1="791.8" y1="1359.3" x2="791.8" y2="1372.5" stroke="#000" stroke-width="2"/>
<text transform="translate(708.53,1354.2) scale(1,1.05)" font-size="27.1" fill="#000">0.40</text>
<text transform="translate(653.81,1610) scale(1,1.05)" font-size="27.4" fill="#000">CTR</text>
<text transform="translate(722.87,1610) scale(1,1.05)" font-size="27.4" fill="#000">IL-7Rα<tspan font-size="20.41" dy="-9.52">ΔEC</tspan></text>
<text transform="translate(517.6,1461.2) rotate(-90) scale(1,1.05)" x="-85.04" font-size="26.64" fill="#000"># CD4<tspan font-size="18.91" dy="-9.14">+</tspan><tspan font-size="26.64" dy="9.14"> T cells</tspan></text>
<line x1="1030.4" y1="1354.2" x2="1030.4" y2="1575.8" stroke="#000" stroke-width="2"/>
<line x1="1022.6" y1="1355.2" x2="1030.4" y2="1355.2" stroke="#000" stroke-width="2"/>
<text transform="translate(925.27,1365.4) scale(1,1.05)" font-size="27.6" fill="#000">2.0<tspan font-size="27.6" font-weight="bold">×</tspan><tspan font-size="27.6">10</tspan><tspan font-size="20" dy="-8.57">6</tspan></text>
<line x1="1022.6" y1="1410.4" x2="1030.4" y2="1410.4" stroke="#000" stroke-width="2"/>
<text transform="translate(925.27,1420.6) scale(1,1.05)" font-size="27.6" fill="#000">1.5<tspan font-size="27.6" font-weight="bold">×</tspan><tspan font-size="27.6">10</tspan><tspan font-size="20" dy="-8.57">6</tspan></text>
<line x1="1022.6" y1="1465.5" x2="1030.4" y2="1465.5" stroke="#000" stroke-width="2"/>
<text transform="translate(925.27,1475.7) scale(1,1.05)" font-size="27.6" fill="#000">1.0<tspan font-size="27.6" font-weight="bold">×</tspan><tspan font-size="27.6">10</tspan><tspan font-size="20" dy="-8.57">6</tspan></text>
<line x1="1022.6" y1="1520.7" x2="1030.4" y2="1520.7" stroke="#000" stroke-width="2"/>
<text transform="translate(925.23,1530.9) scale(1,1.05)" font-size="27.6" fill="#000">5.0<tspan font-size="27.6" font-weight="bold">×</tspan><tspan font-size="27.6">10</tspan><tspan font-size="20" dy="-8.57">5</tspan></text>
<line x1="1022.6" y1="1575.8" x2="1030.4" y2="1575.8" stroke="#000" stroke-width="2"/>
<text transform="translate(983.41,1584.4) scale(1,1.05)" font-size="27.6" fill="#000">0.0</text>
<line x1="1022.6" y1="1575.8" x2="1241" y2="1575.8" stroke="#000" stroke-width="2"/>
<line x1="1083.2" y1="1410" x2="1083.2" y2="1438.7" stroke="#000" stroke-width="2"/>
<line x1="1065.4" y1="1410" x2="1101" y2="1410" stroke="#000" stroke-width="2"/>
<rect x="1048" y="1438.7" width="70.2" height="137.1" fill="#fff" stroke="#000" stroke-width="2"/>
<line x1="1083.2" y1="1575.8" x2="1083.2" y2="1584.1" stroke="#000" stroke-width="2"/>
<line x1="1188.8" y1="1472.5" x2="1188.8" y2="1484.7" stroke="#000" stroke-width="2"/>
<line x1="1171.4" y1="1472.5" x2="1206.2" y2="1472.5" stroke="#000" stroke-width="2"/>
<rect x="1153.5" y="1484.7" width="70.5" height="91.1" fill="#428bca" stroke="#000" stroke-width="2"/>
<line x1="1188.8" y1="1575.8" x2="1188.8" y2="1584.1" stroke="#000" stroke-width="2"/>
<line x1="1084.9" y1="1391.8" x2="1188.8" y2="1391.8" stroke="#000" stroke-width="2"/>
<line x1="1084.9" y1="1385" x2="1084.9" y2="1398.3" stroke="#000" stroke-width="2"/>
<line x1="1188.8" y1="1385" x2="1188.8" y2="1398.3" stroke="#000" stroke-width="2"/>
<text transform="translate(1108.7,1381.8) scale(1,1.05)" font-size="27.6" fill="#000">0.18</text>
<text transform="translate(1055.1,1610.4) scale(1,1.05)" font-size="27.6" fill="#000">CTR</text>
<text transform="translate(1124.95,1610.4) scale(1,1.05)" font-size="27.6" fill="#000">IL-7Rα<tspan font-size="20.56" dy="-9.52">ΔEC</tspan></text>
<text transform="translate(919.3,1456.3) rotate(-90) scale(1,1.05)" x="-83.7" font-size="26.22" fill="#000"># CD8<tspan font-size="18.62" dy="-9.14">+</tspan><tspan font-size="26.22" dy="9.14"> T cells</tspan></text>
<line x1="1425.7" y1="1359.2" x2="1425.7" y2="1575.3" stroke="#000" stroke-width="2"/>
<line x1="1418.2" y1="1360.2" x2="1425.7" y2="1360.2" stroke="#000" stroke-width="2"/>
<text transform="translate(1319.26,1368.5) scale(1,1.05)" font-size="27" fill="#000">500,000</text>
<line x1="1418.2" y1="1403.22" x2="1425.7" y2="1403.22" stroke="#000" stroke-width="2"/>
<text transform="translate(1319.26,1411.52) scale(1,1.05)" font-size="27" fill="#000">400,000</text>
<line x1="1418.2" y1="1446.24" x2="1425.7" y2="1446.24" stroke="#000" stroke-width="2"/>
<text transform="translate(1319.26,1454.54) scale(1,1.05)" font-size="27" fill="#000">300,000</text>
<line x1="1418.2" y1="1489.26" x2="1425.7" y2="1489.26" stroke="#000" stroke-width="2"/>
<text transform="translate(1319.26,1497.56) scale(1,1.05)" font-size="27" fill="#000">200,000</text>
<line x1="1418.2" y1="1532.28" x2="1425.7" y2="1532.28" stroke="#000" stroke-width="2"/>
<text transform="translate(1319.26,1540.58) scale(1,1.05)" font-size="27" fill="#000">100,000</text>
<line x1="1418.2" y1="1575.3" x2="1425.7" y2="1575.3" stroke="#000" stroke-width="2"/>
<text transform="translate(1401.84,1583.6) scale(1,1.05)" font-size="27" fill="#000">0</text>
<line x1="1418.2" y1="1575.3" x2="1631.6" y2="1575.3" stroke="#000" stroke-width="2"/>
<line x1="1477.2" y1="1370.9" x2="1477.2" y2="1397.1" stroke="#000" stroke-width="2"/>
<line x1="1459.6" y1="1370.9" x2="1494.8" y2="1370.9" stroke="#000" stroke-width="2"/>
<rect x="1443.2" y="1397.1" width="68.5" height="178.2" fill="#fff" stroke="#000" stroke-width="2"/>
<line x1="1477.2" y1="1575.3" x2="1477.2" y2="1583.6" stroke="#000" stroke-width="2"/>
<line x1="1580.6" y1="1412.9" x2="1580.6" y2="1441.6" stroke="#000" stroke-width="2"/>
<line x1="1563.1" y1="1412.9" x2="1598.1" y2="1412.9" stroke="#000" stroke-width="2"/>
<rect x="1546.5" y="1441.6" width="68.6" height="133.7" fill="#428bca" stroke="#000" stroke-width="2"/>
<line x1="1580.6" y1="1575.3" x2="1580.6" y2="1583.6" stroke="#000" stroke-width="2"/>
<line x1="1476" y1="1359.9" x2="1587.4" y2="1359.9" stroke="#000" stroke-width="2"/>
<line x1="1476" y1="1353.3" x2="1476" y2="1366.2" stroke="#000" stroke-width="2"/>
<line x1="1587.4" y1="1353.3" x2="1587.4" y2="1366.2" stroke="#000" stroke-width="2"/>
<text transform="translate(1509.98,1349.7) scale(1,1.05)" font-size="27" fill="#000">0.27</text>
<text transform="translate(1449.11,1610) scale(1,1.05)" font-size="27.3" fill="#000">CTR</text>
<text transform="translate(1518.48,1610) scale(1,1.05)" font-size="27.3" fill="#000">IL-7Rα<tspan font-size="20.34" dy="-9.52">ΔEC</tspan></text>
<text transform="translate(1308,1462.8) rotate(-90) scale(1,1.05)" x="-36.57" font-size="26.63" fill="#000"># DCs</text>
</svg>
</body></html>
